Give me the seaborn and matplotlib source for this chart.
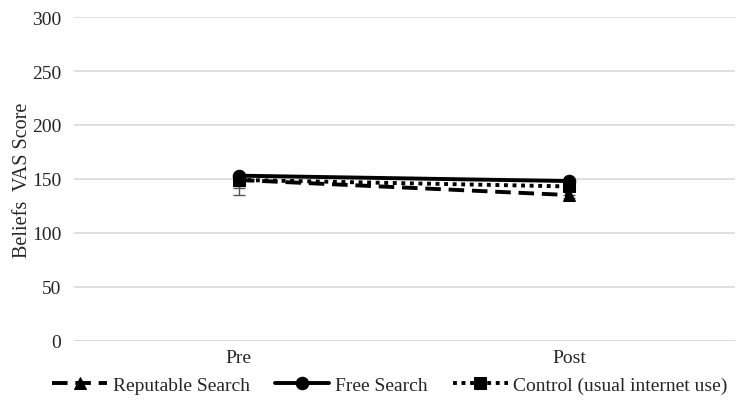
import pandas as pd
import matplotlib.pyplot as plt
import seaborn as sns

times = ["Pre", "Post"]
reputable = [149, 135]
free = [153, 148]
control = [149, 143]
# Excel-style minus error bars (upper part hidden behind the markers)
reputable_err = [14, 3]
free_err = [2, 2]
control_err = [7, 3]

sns.set_style("white")
plt.rcParams["font.family"] = ["Liberation Serif", "DejaVu Serif"]

fig, ax = plt.subplots(figsize=(7.36, 4.02), dpi=100)

series = [
    ("Reputable Search", reputable, reputable_err, "^", (0, (4, 2))),
    ("Free Search", free, free_err, "o", "-"),
    ("Control (usual internet use)", control, control_err, "s", (0, (1, 1.2))),
]

for name, vals, errs, mk, ls in series:
    df = pd.DataFrame({"time": times, "score": vals})
    ax.errorbar(range(len(times)), vals, yerr=[errs, [0] * len(errs)], fmt="none",
                ecolor="#555555", elinewidth=1, capsize=4, zorder=2)
    sns.lineplot(data=df, x="time", y="score", ax=ax, color="black", marker=mk,
                 markersize=9, linewidth=2.8, linestyle=ls, label=name,
                 markeredgecolor="black", zorder=3)

ax.set_ylim(0, 300)
ax.set_yticks(range(0, 301, 50))
ax.set_xlim(-0.5, 1.5)
ax.yaxis.grid(True, color="#d9d9d9", linewidth=1.2)
ax.set_axisbelow(True)
sns.despine(ax=ax, left=True, bottom=True)
ax.axhline(0, color="#d9d9d9", linewidth=1.2, zorder=0)
ax.tick_params(axis="both", length=0, labelsize=14, colors="#262626")
ax.tick_params(axis="y", pad=9)
ax.tick_params(axis="x", pad=6)
ax.set_xlabel("")
ax.set_ylabel("Beliefs  VAS Score", fontsize=14.5, color="#262626", labelpad=0)

handles, labels = ax.get_legend_handles_labels()
ax.get_legend().remove()
fig.legend(handles, labels, loc="center", bbox_to_anchor=(0.53, 0.04), ncol=3,
           frameon=False, fontsize=14, handlelength=2.8, columnspacing=1.3,
           handletextpad=0.3, labelcolor="#262626")

fig.subplots_adjust(left=0.1, right=0.998, top=0.955, bottom=0.15)
fig.savefig("out.png", dpi=100)
